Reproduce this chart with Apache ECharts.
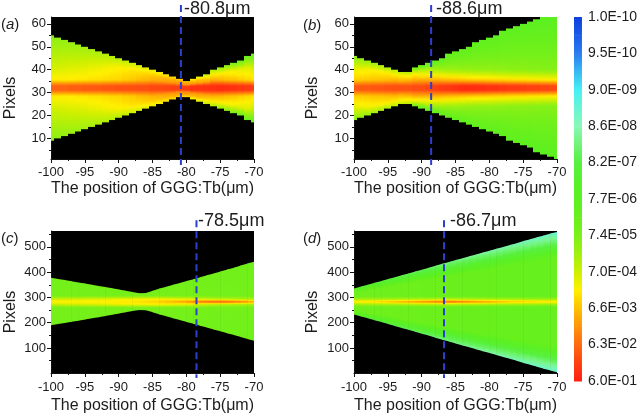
<!DOCTYPE html>
<html>
<head>
<meta charset="utf-8">
<style>html,body{margin:0;padding:0;background:#fff}#c{width:640px;height:415px}</style>
<script src="https://cdn.jsdelivr.net/npm/echarts@6/dist/echarts.min.js"></script>
</head>
<body>
<div id="c"></div>
<script>
// Positions along the crystal (one column per micrometre)
const positions = [-100,-99,-98,-97,-96,-95,-94,-93,-92,-91,-90,-89,-88,-87,-86,-85,-84,-83,-82,-81,-80,-79,-78,-77,-76,-75,-74,-73,-72,-71,-70];

// Colour bar, listed top to bottom (colours sampled at half-label steps)
const scaleLabels = ['1.0E-10','9.5E-10','9.0E-09','8.6E-08','8.2E-07','7.7E-06','7.4E-05','7.0E-04','6.6E-03','6.3E-02','6.0E-01'];
const scaleColours = ['#0f3fe0','#1a5ce8','#2a7cf0','#38b8f4','#45f0f5','#68f4d4','#88f8b8','#70f478','#58f040','#58f02c','#5cf020','#68f01c','#7cf018','#a0f010','#ccf000','#fff000','#ffc000','#ff9408','#ff6a10','#ff4010','#ff2010'];
const scaleMinExp = -10;
const scaleMaxExp = -0.22;

// Panel a: beam edges in rows, log10 intensity per column
const aUpper = [55,54,53,52,51,50,49,48,47,46,45,44,43,42,41,40,39,38,37,36,35,36,37,38,40,41,42,43,44,46,47];
const aLower = [9,10,11,12,13,14,15,16,17,18,19,20,21,22,23,24,25,26,27,28,28,27,26,25,24,23,22,21,20,18,17];
const aCore = [-1.1,-1.1,-1.1,-1.05,-1.05,-1,-1,-1,-0.95,-0.95,-0.9,-0.9,-0.9,-0.85,-0.85,-0.8,-0.8,-0.75,-0.7,-0.7,-0.6,-0.5,-0.5,-0.45,-0.45,-0.4,-0.45,-0.5,-0.55,-0.6,-0.7];
const aShoulder = [-2.6,-2.6,-2.6,-2.6,-2.55,-2.55,-2.5,-2.5,-2.45,-2.4,-2.4,-2.3,-2.25,-2.15,-2.1,-2,-1.9,-1.8,-1.7,-1.6,-1.6,-1.7,-1.8,-1.9,-2,-2.05,-2.15,-2.2,-2.3,-2.4,-2.5];
const aBody = [-3.1,-3.1,-3.05,-3,-3,-2.95,-2.9,-2.85,-2.8,-2.75,-2.7,-2.65,-2.55,-2.5,-2.4,-2.3,-2.2,-2.1,-2,-1.9,-1.9,-2.1,-2.2,-2.4,-2.55,-2.65,-2.75,-2.85,-2.95,-3,-3.1];
const aEdge = [-3.9,-3.85,-3.8,-3.75,-3.7,-3.65,-3.6,-3.55,-3.5,-3.45,-3.4,-3.3,-3.2,-3.1,-3,-2.95,-2.85,-2.7,-2.55,-2.4,-2.5,-2.8,-3,-3.3,-3.5,-3.8,-4,-4.2,-4.4,-4.5,-4.7];

// Panel b
const bUpper = [46,45,44,43,42,41,40,39,39,41,42,43,44,45,47,48,49,50,52,53,54,55,57,58,59,60,61,62,63,63,63];
const bLower = [18,19,20,21,22,23,24,25,25,24,23,22,21,20,19,18,17,16,15,14,13,12,11,9,8,7,6,4,3,2,1];
const bCore = [-1,-1,-1,-0.95,-0.95,-0.9,-0.9,-0.9,-0.9,-0.85,-0.85,-0.8,-0.7,-0.6,-0.55,-0.5,-0.4,-0.4,-0.4,-0.45,-0.5,-0.5,-0.55,-0.6,-0.6,-0.65,-0.7,-0.7,-0.75,-0.8,-0.85];
const bShoulder = [-2.3,-2.3,-2.25,-2.2,-2.2,-2.15,-2.1,-2.05,-2,-2,-2,-2,-2,-2.05,-2.1,-2.15,-2.2,-2.25,-2.3,-2.3,-2.35,-2.4,-2.4,-2.45,-2.5,-2.5,-2.55,-2.55,-2.6,-2.6,-2.65];
const bBody = [-2.85,-2.8,-2.75,-2.7,-2.65,-2.6,-2.6,-2.55,-2.6,-2.8,-3.1,-3.3,-3.55,-3.65,-3.7,-3.7,-3.75,-3.75,-3.8,-3.8,-3.8,-3.85,-3.85,-3.9,-3.9,-3.9,-3.95,-3.95,-4,-4,-4];
const bEdge = [-3.9,-3.85,-3.8,-3.7,-3.6,-3.5,-3.4,-3.3,-3.4,-4.4,-4.7,-4.8,-4.8,-4.8,-4.85,-4.85,-4.9,-4.9,-4.9,-4.95,-4.95,-5,-5,-5,-5.05,-5.05,-5.1,-5.1,-5.1,-5.15,-5.2];

// Panel c
const cUpper = [378,373,369,364,359,355,350,345,341,336,331,327,322,317,318,327,335,342,350,357,365,372,380,388,395,403,411,418,426,434,442];
const cLower = [190,195,199,204,208,213,218,222,227,232,236,241,246,250,249,241,233,226,218,211,203,196,188,181,173,166,158,151,143,136,128];
const cCore = [-2.7,-2.7,-2.7,-2.7,-2.7,-2.65,-2.65,-2.65,-2.65,-2.6,-2.6,-2.6,-2.55,-2.5,-2.45,-2.4,-2.3,-2.2,-2.1,-2,-1.8,-1.65,-1.5,-1.4,-1.35,-1.35,-1.45,-1.6,-1.75,-2,-2.2];
const cShoulder = [-3.2,-3.15,-3.1,-3.1,-3.05,-3,-3,-2.95,-2.9,-2.85,-2.8,-2.8,-2.75,-2.75,-2.7,-2.7,-2.7,-2.75,-2.8,-2.85,-2.9,-3,-3.1,-3.2,-3.25,-3.3,-3.35,-3.4,-3.45,-3.5,-3.5];
const cBody = [-4.25,-4.25,-4.25,-4.25,-4.25,-4.25,-4.25,-4.25,-4.25,-4.25,-4.25,-4.2,-4.2,-4.2,-4.2,-4.2,-4.2,-4.2,-4.25,-4.25,-4.25,-4.25,-4.25,-4.3,-4.3,-4.3,-4.3,-4.3,-4.3,-4.3,-4.3];
const cEdge = [-4.35,-4.35,-4.35,-4.35,-4.35,-4.35,-4.35,-4.35,-4.35,-4.35,-4.35,-4.3,-4.3,-4.3,-4.3,-4.3,-4.35,-4.35,-4.35,-4.35,-4.35,-4.4,-4.4,-4.4,-4.4,-4.4,-4.4,-4.45,-4.45,-4.45,-4.5];

// Panel d
const dUpper = [335,343,350,358,365,373,380,388,395,403,410,418,425,433,440,448,455,463,470,478,485,493,500,508,515,523,530,538,545,553,560];
const dLower = [233,225,218,210,203,195,187,179,172,164,156,149,141,133,126,118,110,103,95,87,80,72,64,57,49,41,34,26,18,11,3];
const dCore = [-2.7,-2.6,-2.6,-2.5,-2.4,-2.3,-2.2,-2.1,-2,-1.9,-1.8,-1.7,-1.6,-1.5,-1.5,-1.6,-1.7,-1.8,-1.9,-2,-2.1,-2.2,-2.3,-2.4,-2.4,-2.5,-2.5,-2.6,-2.6,-2.7,-2.7];
const dShoulder = [-3.4,-3.4,-3.35,-3.35,-3.3,-3.3,-3.25,-3.2,-3.2,-3.15,-3.1,-3.1,-3.05,-3,-3.05,-3.1,-3.1,-3.15,-3.2,-3.2,-3.25,-3.3,-3.3,-3.35,-3.35,-3.4,-3.4,-3.4,-3.45,-3.45,-3.5];
const dBody = [-4.5,-4.5,-4.5,-4.5,-4.5,-4.5,-4.5,-4.5,-4.5,-4.5,-4.55,-4.55,-4.55,-4.55,-4.6,-4.6,-4.6,-4.6,-4.6,-4.6,-4.65,-4.65,-4.65,-4.65,-4.65,-4.7,-4.7,-4.7,-4.7,-4.7,-4.7];
const dEdge = [-5.8,-5.9,-6,-6.1,-6.2,-6.3,-6.35,-6.4,-6.45,-6.5,-6.6,-6.65,-6.7,-6.75,-6.8,-6.85,-6.9,-6.95,-7,-7.05,-7.1,-7.15,-7.2,-7.25,-7.3,-7.35,-7.4,-7.45,-7.5,-7.55,-7.6];

// Marked positions and panel captions
const markedPosition = [-80.8,-88.6,-78.5,-86.7];
const markedLabels = ['-80.8μm','-88.6μm','-78.5μm','-86.7μm'];
const panelNames = ['a','b','c','d'];
const xTitle = 'The position of GGG:Tb(μm)';
const yTitle = 'Pixels';
const xTicksFrom = -100, xTicksTo = -70, xTickStep = 5;
const rowTicksSmall = [10,20,30,40,50,60];
const rowTicksSmallMinor = [5,15,25,35,45,55];
const rowTicksLarge = [100,200,300,400,500];
const rowTicksLargeMinor = [50,150,250,350,450,550];

const FONT = '"Liberation Sans", Arial, sans-serif';
const INK = '#1c1c1c';

const panels = [
  {left:51, top:17, up:aUpper, lo:aLower, core:aCore, sh:aShoulder, body:aBody, edge:aEdge, center:32, max:63, ticks:rowTicksSmall, minor:rowTicksSmallMinor,
   stepped:true, coreOff:0.9, shOff:3.5, bodyOff:9, edgeStart:0, lineTop:68.2, lineBot:-1.6, titleX:184, titleY:0, tagX:1, tagY:17, nameX:11, nameY:98, xNameY:189},
  {left:354, top:17, up:bUpper, lo:bLower, core:bCore, sh:bShoulder, body:bBody, edge:bEdge, center:32, max:63, ticks:rowTicksSmall, minor:rowTicksSmallMinor,
   stepped:true, coreOff:0.9, shOff:3.5, bodyOff:8, edgeStart:0, lineTop:68.2, lineBot:-1.6, titleX:436, titleY:0, tagX:303, tagY:18, nameX:313, nameY:98, xNameY:189},
  {left:51, top:231, up:cUpper, lo:cLower, core:cCore, sh:cShoulder, body:cBody, edge:cEdge, center:283, max:563, ticks:rowTicksLarge, minor:rowTicksLargeMinor,
   stepped:false, coreOff:2, shOff:10, bodyOff:24, edgeStart:0, lineTop:606, lineBot:-19, titleX:198, titleY:212, tagX:1, tagY:231, nameX:11, nameY:312, xNameY:406},
  {left:354, top:231, up:dUpper, lo:dLower, core:dCore, sh:dShoulder, body:dBody, edge:dEdge, center:283, max:563, ticks:rowTicksLarge, minor:rowTicksLargeMinor,
   stepped:false, coreOff:2, shOff:8, bodyOff:22, edgeStart:0.62, lineTop:606, lineBot:-19, titleX:450, titleY:212, tagX:303, tagY:231, nameX:313, nameY:312, xNameY:406}
];

function colourOf(exp){
  const u = (scaleMaxExp - exp) / (scaleMaxExp - scaleMinExp);
  return echarts.color.lerp(Math.min(1, Math.max(0, u)), scaleColours.slice().reverse());
}

// Vertical profile of a column on one side of the centre, as [row offset, log10 intensity]
function sideProfile(p, i, hw){
  const o1 = Math.min(p.coreOff, hw*0.2), o2 = Math.min(p.shOff, hw*0.45), o3 = Math.min(p.bodyOff, hw*0.7);
  const pts = [[0,p.core[i]],[o1,p.core[i]],[o2,p.sh[i]],[o3,p.body[i]]];
  if (p.edgeStart*hw > o3) pts.push([p.edgeStart*hw,p.body[i]]);
  pts.push([hw,p.edge[i]]);
  const out = [];
  for (let k=0;k<pts.length-1;k++){
    for (let s=0;s<4;s++){
      const f=s/4;
      out.push([pts[k][0]+(pts[k+1][0]-pts[k][0])*f, pts[k][1]+(pts[k+1][1]-pts[k][1])*f]);
    }
  }
  out.push(pts[pts.length-1]);
  return out;
}

function beamSeries(p, idx){
  const data = positions.map((x,i)=>[x,p.lo[i],p.up[i]]);
  return {
    type:'custom', xAxisIndex:idx, yAxisIndex:idx*2, clip:true, silent:true, z:2,
    encode:{x:0,y:[1,2]}, data,
    renderItem(params, api){
      const i = params.dataIndex, x = api.value(0);
      const j = p.stepped ? i : Math.min(i+1,positions.length-1);
      const yOf = r => api.coord([x,r])[1];
      const upMax = Math.max(p.up[i],p.up[j]), loMin = Math.min(p.lo[i],p.lo[j]);
      const yTop = yOf(upMax), yBot = yOf(loMin), span = (yBot-yTop)||1;
      const stops = [];
      sideProfile(p,i,upMax-p.center).reverse().forEach(s=>{
        stops.push({offset:(yOf(p.center+s[0])-yTop)/span, color:colourOf(s[1])});
      });
      sideProfile(p,i,p.center-loMin).forEach(s=>{
        stops.push({offset:(yOf(p.center-s[0])-yTop)/span, color:colourOf(s[1])});
      });
      const fill = {type:'linear',x:0,y:yTop,x2:0,y2:yBot,global:true,colorStops:stops};
      let pts;
      if (p.stepped){
        const xa = Math.round(api.coord([x-0.5,0])[0]), xb = Math.round(api.coord([x+0.5,0])[0]);
        pts = [[xa,yTop],[xb,yTop],[xb,yBot],[xa,yBot]];
      } else {
        const xa = api.coord([x,0])[0], xb = api.coord([positions[j],0])[0];
        pts = [[xa,yOf(p.up[i])],[xb+0.6,yOf(p.up[j])],[xb+0.6,yOf(p.lo[j])],[xa,yOf(p.lo[i])]];
      }
      return {type:'polygon', shape:{points:pts}, style:{fill}};
    }
  };
}

const grid=[], xAxis=[], yAxis=[], series=[], title=[], graphic=[];
const axisBase = {
  axisLine:{show:true,onZero:false,lineStyle:{color:'#111',width:1}},
  splitLine:{show:false}
};
panels.forEach((p,idx)=>{
  grid.push({left:p.left, top:p.top, width:203, height:142, show:true, backgroundColor:'#000', borderWidth:0});
  xAxis.push(Object.assign({}, axisBase, {
    type:'value', gridIndex:idx, min:xTicksFrom, max:xTicksTo, interval:xTickStep,
    axisTick:{show:true,length:4,lineStyle:{color:'#111'}},
    minorTick:{show:true,splitNumber:2,length:2,lineStyle:{color:'#111'}},
    axisLabel:{margin:idx<2?7:8,fontFamily:FONT,fontSize:13,color:INK}
  }));
  yAxis.push(Object.assign({}, axisBase, {
    type:'value', gridIndex:idx, min:1, max:p.max,
    axisTick:{show:true,length:4,customValues:p.ticks,lineStyle:{color:'#111'}},
    axisLabel:{margin:5,customValues:p.ticks,fontFamily:FONT,fontSize:13,color:INK}
  }));
  yAxis.push({
    type:'value', gridIndex:idx, position:'left', min:1, max:p.max,
    axisLine:{show:false}, splitLine:{show:false}, axisLabel:{show:false},
    axisTick:{show:true,length:2,customValues:p.minor,lineStyle:{color:'#111'}}
  });
  series.push(beamSeries(p,idx));
  series.push({
    type:'line', xAxisIndex:idx, yAxisIndex:idx*2, clip:false, silent:true, z:5, symbol:'none',
    data:[[markedPosition[idx],p.lineTop],[markedPosition[idx],p.lineBot]],
    lineStyle:{color:'#2b3fd0',width:2,type:[7,4]}
  });
  title.push({text:markedLabels[idx], left:p.titleX, top:p.titleY, padding:0,
    textStyle:{fontFamily:FONT,fontSize:18,fontWeight:'normal',color:INK}});
  title.push({text:'{n|(}{i|'+panelNames[idx]+'}{n|)}', left:p.tagX, top:p.tagY, padding:0,
    textStyle:{fontWeight:'normal',rich:{
      n:{fontFamily:FONT,fontSize:15,fontWeight:'normal',color:INK},
      i:{fontFamily:FONT,fontSize:15,fontWeight:'normal',fontStyle:'italic',color:INK}
    }}});
  graphic.push({type:'text', x:p.left+101.5, y:p.xNameY, silent:true,
    style:{text:xTitle, font:'16px '+FONT, fill:INK, align:'center', verticalAlign:'middle'}});
  graphic.push({type:'text', x:p.nameX, y:p.nameY, rotation:Math.PI/2, silent:true,
    style:{text:yTitle, font:'16px '+FONT, fill:INK, align:'center', verticalAlign:'middle'}});
});

// Colour bar: the labels sit on a value axis, its gradient is drawn from the colour list
grid.push({left:574,top:17,width:10,height:364});
const barIdx = panels.length, barY = yAxis.length;
const barTop = scaleLabels.length-1;
xAxis.push({type:'value',gridIndex:barIdx,min:0,max:1,show:false});
yAxis.push({
  type:'value', gridIndex:barIdx, position:'right', min:0, max:barTop, interval:1,
  axisLine:{show:false}, axisTick:{show:false}, splitLine:{show:false},
  axisLabel:{margin:6,fontFamily:FONT,fontSize:14,color:INK,formatter:v=>scaleLabels[barTop-v]}
});
const barStep = barTop/(scaleColours.length-1);
series.push({
  type:'custom', xAxisIndex:barIdx, yAxisIndex:barY, silent:true,
  data:scaleColours.slice(0,-1).map((c,i)=>[0,barTop-i*barStep,1,barTop-(i+1)*barStep]),
  encode:{x:[0,2],y:[1,3]},
  renderItem(params, api){
    const i = params.dataIndex;
    const a = api.coord([api.value(0),api.value(1)]), b = api.coord([api.value(2),api.value(3)]);
    return {type:'rect', shape:{x:a[0],y:a[1],width:b[0]-a[0],height:b[1]-a[1]+0.5},
      style:{fill:{type:'linear',x:0,y:a[1],x2:0,y2:b[1],global:true,
        colorStops:[{offset:0,color:scaleColours[i]},{offset:1,color:scaleColours[i+1]}]}}};
  }
});

const chart = echarts.init(document.getElementById('c'),null,{renderer:'canvas'});
chart.setOption({animation:false,backgroundColor:'#fff',title,grid,xAxis,yAxis,series,graphic});
</script>
</body>
</html>
